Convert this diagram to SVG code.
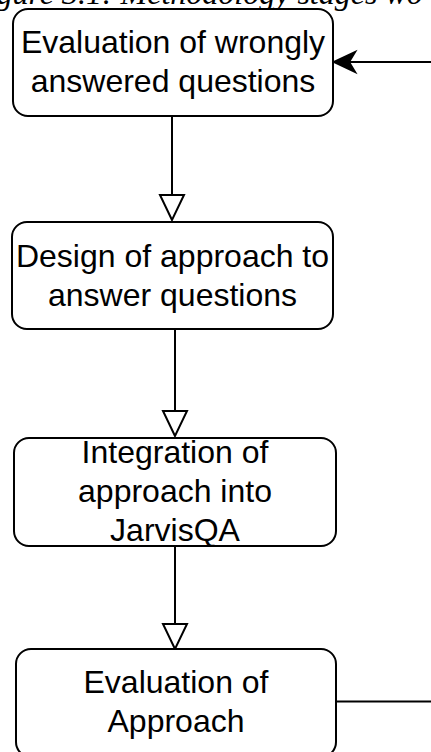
<svg xmlns="http://www.w3.org/2000/svg" width="431" height="752" viewBox="0 0 431 752">
<style>
.box{fill:#fff;stroke:#000;stroke-width:2}
.t{font-family:"Liberation Sans",Arial,sans-serif;font-size:32px;fill:#000;text-anchor:middle}
.e{fill:none;stroke:#000;stroke-width:2}
.head{fill:#fff;stroke:#000;stroke-width:2}
.cap{font-family:"Liberation Serif","Times New Roman",serif;font-style:italic;font-size:32px;fill:#000}
</style>
<text class="cap" x="-32" y="4">Figure 3.1: Methodology stages wo</text>
<g id="connectors">
<path class="e" d="M172,116 V195"/>
<path class="head" d="M172,220 L160,195 L184,195 Z"/>
<path class="e" d="M175,329 V410"/>
<path class="head" d="M175,436 L163,411 L187,411 Z"/>
<path class="e" d="M175,546 V624"/>
<path class="head" d="M175,649 L163,624 L187,624 Z"/>
<path class="e" d="M336,701.5 H431"/>
<path class="e" d="M431,62 H346"/>
<path d="M334,62 L355,52 L349,62 L355,72 Z" fill="#000" stroke="#000" stroke-width="2"/>
</g>
<g id="n1">
<rect class="box" x="13" y="9" width="320" height="107" rx="15"/>
<text class="t" x="173" y="53">Evaluation of wrongly</text>
<text class="t" x="173" y="92">answered questions</text>
</g>
<g id="n2">
<rect class="box" x="12" y="222" width="321" height="107" rx="15"/>
<text class="t" x="172.5" y="267">Design of approach to</text>
<text class="t" x="172.5" y="306">answer questions</text>
</g>
<g id="n3">
<rect class="box" x="14" y="438" width="322" height="108" rx="15"/>
<text class="t" x="175" y="463">Integration of</text>
<text class="t" x="175" y="502">approach into</text>
<text class="t" x="175" y="541">JarvisQA</text>
</g>
<g id="n4">
<rect class="box" x="16" y="649" width="320" height="108" rx="15"/>
<text class="t" x="176" y="693">Evaluation of</text>
<text class="t" x="176" y="732">Approach</text>
</g>
</svg>
